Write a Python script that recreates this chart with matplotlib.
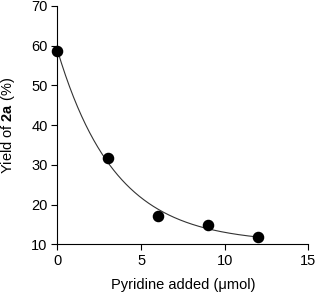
import numpy as np
import matplotlib
matplotlib.use("Agg")
import matplotlib.pyplot as plt

plt.rcParams['font.family'] = ['Liberation Sans', 'DejaVu Sans']
plt.rcParams['mathtext.fontset'] = 'custom'
plt.rcParams['mathtext.rm'] = 'Liberation Sans'
plt.rcParams['mathtext.bf'] = 'Liberation Sans:bold'

pyridine = [0, 3, 6, 9, 12]
yield_2a = [58.7, 31.7, 17.1, 14.8, 11.9]
xticks = [0, 5, 10, 15]
yticks = [10, 20, 30, 40, 50, 60, 70]

# exponential decay fit y = a + b*exp(-k x)
x = np.array(pyridine, float)
y = np.array(yield_2a, float)
best = None
for k in np.linspace(0.05, 1.5, 2000):
    A = np.vstack([np.ones_like(x), np.exp(-k * x)]).T
    coef, res, *_ = np.linalg.lstsq(A, y, rcond=None)
    err = np.sum((A @ coef - y) ** 2)
    if best is None or err < best[0]:
        best = (err, k, coef)
_, k, (a, b) = best
xf = np.linspace(0, 12, 300)
yf = a + b * np.exp(-k * xf)

fig = plt.figure(figsize=(3.19, 2.94), dpi=100)
ax = fig.add_axes([0.180, 0.169, 0.7865, 0.8106])
ax.plot(xf, yf, color='#333333', lw=0.8, zorder=2)
ax.plot(pyridine, yield_2a, 'o', color='black', ms=7.3, zorder=3, clip_on=False)
ax.set_xlim(0, 15)
ax.set_ylim(10, 70)
ax.set_xticks(xticks)
ax.set_yticks(yticks)
for s in ['top', 'right']:
    ax.spines[s].set_visible(False)
for s in ['left', 'bottom']:
    ax.spines[s].set_linewidth(0.8)
ax.tick_params(direction='out', length=4, width=0.8, labelsize=10.5, pad=3)
ax.set_xlabel('Pyridine added (μmol)', fontsize=10.5, labelpad=7)
ax.set_ylabel(r'Yield of $\mathbf{2a}$ (%)', fontsize=10.5, labelpad=10)
fig.savefig('out.png', dpi=100)
